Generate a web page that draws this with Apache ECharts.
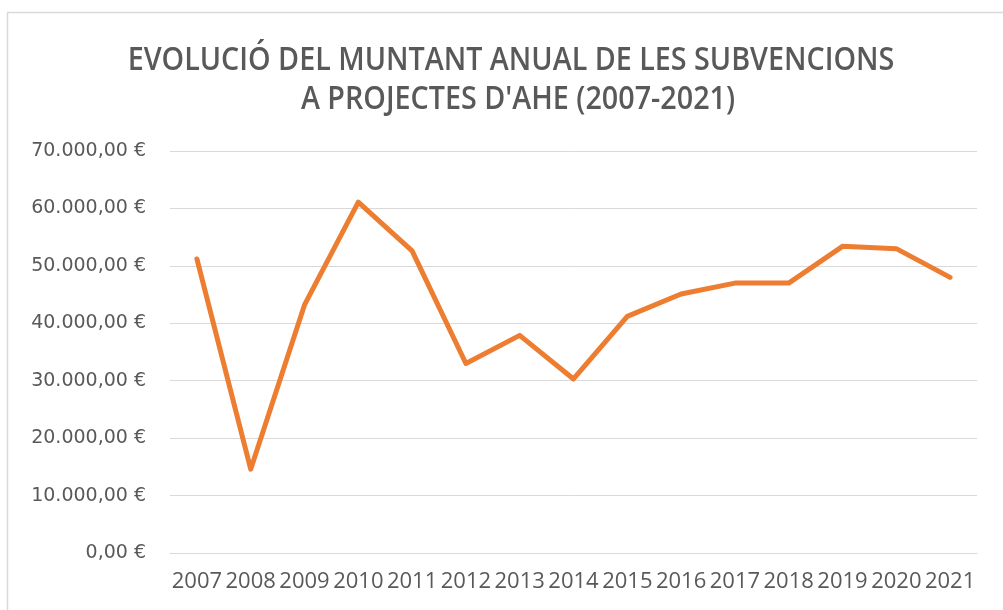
<!DOCTYPE html>
<html>
<head>
<meta charset="utf-8">
<script src="https://cdn.jsdelivr.net/npm/echarts@6/dist/echarts.min.js"></script>
<style>
html,body{margin:0;padding:0;background:#fff;}
#chart{width:1003px;height:610px;}
</style>
</head>
<body>
<div id="chart"></div>
<script>
const years = ['2007','2008','2009','2010','2011','2012','2013','2014','2015','2016','2017','2018','2019','2020','2021'];
const amounts = [51200, 14600, 43200, 61100, 52600, 33000, 37900, 30300, 41200, 45100, 47000, 47000, 53400, 53000, 48000];
const yTicks = [0, 10000, 20000, 30000, 40000, 50000, 60000, 70000];
const titleLine1 = "EVOLUCIÓ DEL MUNTANT ANUAL DE LES SUBVENCIONS";
const titleLine2 = "A PROJECTES D'AHE (2007-2021)";

function fmtEuro(v) {
  const parts = v.toFixed(2).split('.');
  const intPart = parts[0].replace(/\B(?=(\d{3})+(?!\d))/g, '.');
  return intPart + ',' + parts[1] + ' €';
}

const titleStyle = {
  fill: '#595959',
  fontFamily: "'Open Sans', sans-serif",
  fontSize: 33,
  fontWeight: 600,
  textAlign: 'center',
  textVerticalAlign: 'middle'
};

const chart = echarts.init(document.getElementById('chart'), null, {renderer: 'canvas'});
chart.setOption({
  backgroundColor: '#ffffff',
  animation: false,
  graphic: [{
    type: 'rect',
    shape: {x: 7.5, y: 12.5, width: 1010, height: 620},
    style: {fill: 'none', stroke: '#d9d9d9', lineWidth: 1.5},
    silent: true
  }, {
    type: 'text',
    x: 511, y: 61, scaleX: 0.87,
    style: Object.assign({text: titleLine1}, titleStyle),
    silent: true
  }, {
    type: 'text',
    x: 518, y: 100, scaleX: 0.87,
    style: Object.assign({text: titleLine2}, titleStyle),
    silent: true
  }],
  grid: {left: 170, right: 26, top: 151, bottom: 57, containLabel: false},
  xAxis: {
    type: 'category',
    data: years,
    boundaryGap: true,
    axisLine: {show: true, lineStyle: {color: '#d9d9d9', width: 1}},
    axisTick: {show: false},
    axisLabel: {
      interval: 0,
      margin: 18,
      color: '#595959',
      fontFamily: "'Open Sans', sans-serif",
      fontSize: 22
    }
  },
  yAxis: {
    type: 'value',
    min: yTicks[0],
    max: yTicks[yTicks.length - 1],
    interval: 10000,
    axisLine: {show: false},
    axisTick: {show: false},
    splitLine: {lineStyle: {color: '#d9d9d9', width: 1}},
    axisLabel: {
      margin: 24,
      color: '#595959',
      fontFamily: "'DejaVu Sans', sans-serif",
      fontSize: 19,
      formatter: fmtEuro
    }
  },
  series: [{
    type: 'line',
    data: amounts,
    symbol: 'none',
    lineStyle: {color: '#ED7D31', width: 5, join: 'round', cap: 'round'},
    itemStyle: {color: '#ED7D31'}
  }]
});
</script>
</body>
</html>
